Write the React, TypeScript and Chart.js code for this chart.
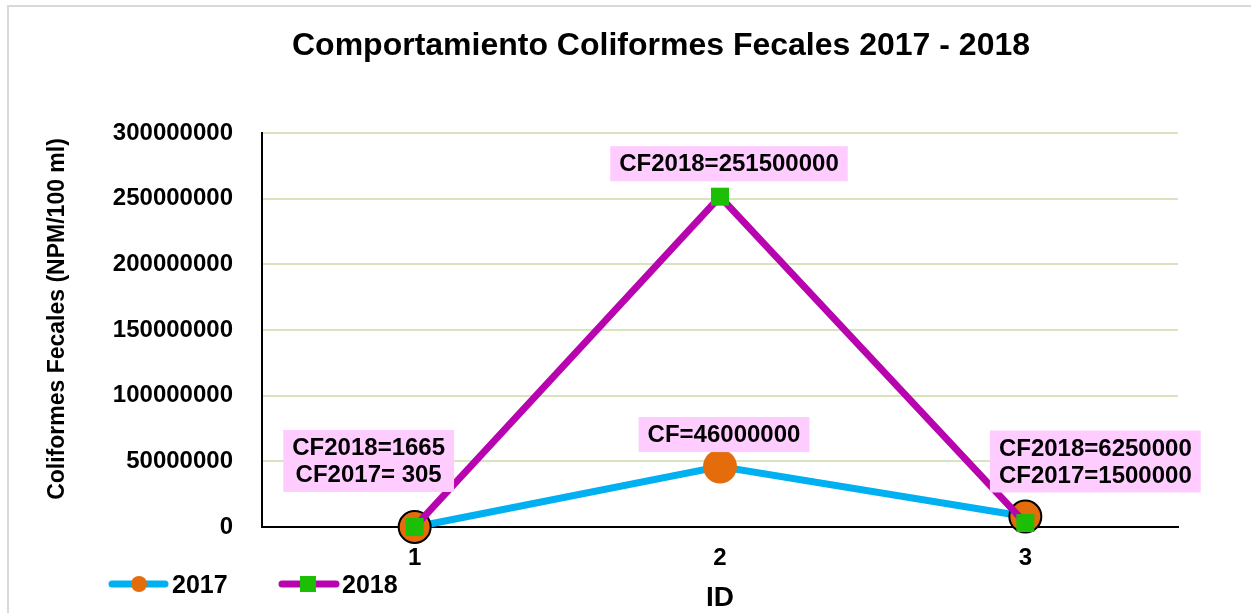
import React, { useEffect, useRef } from "react";
import { Chart, registerables } from "chart.js";

Chart.register(...registerables);

const categories = ["1", "2", "3"];
const values2017 = [305, 46000000, 8000000];
const values2018 = [1665, 251500000, 3000000];
const yTicks = [0, 50000000, 100000000, 150000000, 200000000, 250000000, 300000000];
const titleText = "Comportamiento Coliformes Fecales 2017 - 2018";
const yTitle = "Coliformes Fecales (NPM/100 ml)";
const xTitle = "ID";
const seriesNames = ["2017", "2018"];
const labelLines1 = ["CF2018=1665", "CF2017= 305"];
const labelLine2a = ["CF=46000000"];
const labelLine2b = ["CF2018=251500000"];
const labelLines3 = ["CF2018=6250000", "CF2017=1500000"];

const FONT = '"Liberation Sans", Arial, sans-serif';
const BLUE = "#00B0F0";
const ORANGE = "#E46C0A";
const MAGENTA = "#B804AE";
const GREEN = "#1CBF06";
const PINK = "#FFCCFF";

export default function App() {
  const ref = useRef<HTMLCanvasElement | null>(null);

  useEffect(() => {
    document.body.style.margin = "0";
    const canvas = ref.current!;

    const decor = {
      id: "decor",
      beforeDraw(chart: any) {
        const ctx = chart.ctx;
        ctx.save();
        ctx.fillStyle = "#fff";
        ctx.fillRect(0, 0, chart.width, chart.height);
        ctx.strokeStyle = "#d9d9d9";
        ctx.lineWidth = 2;
        ctx.beginPath();
        ctx.moveTo(8, chart.height);
        ctx.lineTo(8, 6);
        ctx.lineTo(chart.width, 6);
        ctx.stroke();
        ctx.restore();
      },
      afterDatasetsDraw(chart: any) {
        const ctx = chart.ctx;
        const m0 = chart.getDatasetMeta(0);
        const m1 = chart.getDatasetMeta(1);
        const box = (lines: string[], cx: number, cy: number) => {
          ctx.save();
          ctx.font = `bold 24px ${FONT}`;
          const w = Math.max(...lines.map((l) => ctx.measureText(l).width)) + 18;
          const lh = 27;
          const h = lines.length * lh + 8;
          ctx.fillStyle = PINK;
          ctx.fillRect(cx - w / 2, cy - h / 2, w, h);
          ctx.fillStyle = "#000";
          ctx.textAlign = "center";
          ctx.textBaseline = "middle";
          lines.forEach((l, i) => {
            ctx.fillText(l, cx, cy - ((lines.length - 1) * lh) / 2 + i * lh + 1);
          });
          ctx.restore();
        };
        const p1 = m0.data[0];
        box(labelLines1, p1.x - 46, p1.y - 66);
        const p2a = m0.data[1];
        box(labelLine2a, p2a.x + 4, p2a.y - 32);
        const p2b = m1.data[1];
        box(labelLine2b, p2b.x + 9, p2b.y - 33);
        const p3 = m0.data[2];
        box(labelLines3, p3.x + 70, p3.y - 55);
      },
      afterDraw(chart: any) {
        const ctx = chart.ctx;
        const ca = chart.chartArea;
        ctx.save();
        ctx.fillStyle = "#000";
        ctx.textAlign = "center";
        ctx.textBaseline = "middle";
        ctx.font = `bold 32px ${FONT}`;
        ctx.fillText(titleText, 661, 46);
        ctx.font = `bold 28px ${FONT}`;
        ctx.fillText(xTitle, (ca.left + ca.right) / 2, 598);
        ctx.save();
        ctx.translate(58, 319);
        ctx.rotate(-Math.PI / 2);
        ctx.font = `bold 23px ${FONT}`;
        ctx.fillText(yTitle, 0, 0);
        ctx.restore();

        // legend
        const ly = 584;
        ctx.lineCap = "round";
        ctx.lineWidth = 7;
        ctx.strokeStyle = BLUE;
        ctx.beginPath();
        ctx.moveTo(112, ly);
        ctx.lineTo(165, ly);
        ctx.stroke();
        ctx.fillStyle = ORANGE;
        ctx.beginPath();
        ctx.arc(139, ly, 8, 0, Math.PI * 2);
        ctx.fill();
        ctx.strokeStyle = MAGENTA;
        ctx.beginPath();
        ctx.moveTo(282, ly);
        ctx.lineTo(336, ly);
        ctx.stroke();
        ctx.fillStyle = GREEN;
        ctx.fillRect(300, ly - 8, 16, 16);
        ctx.fillStyle = "#000";
        ctx.textAlign = "left";
        ctx.font = `bold 25px ${FONT}`;
        ctx.fillText(seriesNames[0], 172, ly + 2);
        ctx.fillText(seriesNames[1], 342, ly + 2);
        ctx.restore();
      },
    };

    const chart = new Chart(canvas, {
      type: "line",
      data: {
        labels: categories,
        datasets: [
          {
            label: seriesNames[0],
            data: values2017,
            order: 2,
            clip: false,
            borderColor: BLUE,
            borderWidth: 7,
            pointStyle: "circle",
            pointRadius: [16, 17, 16],
            pointBackgroundColor: ORANGE,
            pointBorderColor: ["#000", ORANGE, "#000"],
            pointBorderWidth: [2, 0, 2],
          },
          {
            label: seriesNames[1],
            data: values2018,
            order: 1,
            clip: false,
            borderColor: MAGENTA,
            borderWidth: 7,
            pointStyle: "rect",
            pointRadius: 12.7,
            pointBackgroundColor: GREEN,
            pointBorderColor: GREEN,
            pointBorderWidth: 0,
          },
        ],
      },
      options: {
        animation: false,
        responsive: false,
        maintainAspectRatio: false,
        layout: { padding: { top: 133, right: 73, bottom: 0, left: 0 } },
        plugins: {
          legend: { display: false },
          title: { display: false },
          tooltip: { enabled: false },
        },
        scales: {
          x: {
            type: "category",
            offset: true,
            grid: { display: false, drawTicks: false },
            border: { display: true, color: "#000", width: 2 },
            ticks: {
              color: "#000",
              font: { family: FONT, size: 24, weight: "bold" },
              padding: 17,
            },
            afterFit(scale: any) {
              scale.height = 86;
            },
          },
          y: {
            min: 0,
            max: 300000000,
            afterBuildTicks(scale: any) {
              scale.ticks = yTicks.map((v) => ({ value: v }));
            },
            grid: {
              drawTicks: false,
              lineWidth: 2,
              color: (c: any) => (c.tick && c.tick.value === 0 ? "rgba(0,0,0,0)" : "#D7E4BD"),
            },
            border: { display: true, color: "#000", width: 2 },
            ticks: {
              color: "#000",
              font: { family: FONT, size: 24, weight: "bold" },
              padding: 29,
              callback: (v: any) => String(v),
            },
            afterFit(scale: any) {
              scale.width = 262;
            },
          },
        },
      },
      plugins: [decor],
    });

    return () => chart.destroy();
  }, []);

  return (
    <div style={{ width: 1251, height: 613 }}>
      <canvas ref={ref} width={1251} height={613} style={{ display: "block" }} />
    </div>
  );
}
